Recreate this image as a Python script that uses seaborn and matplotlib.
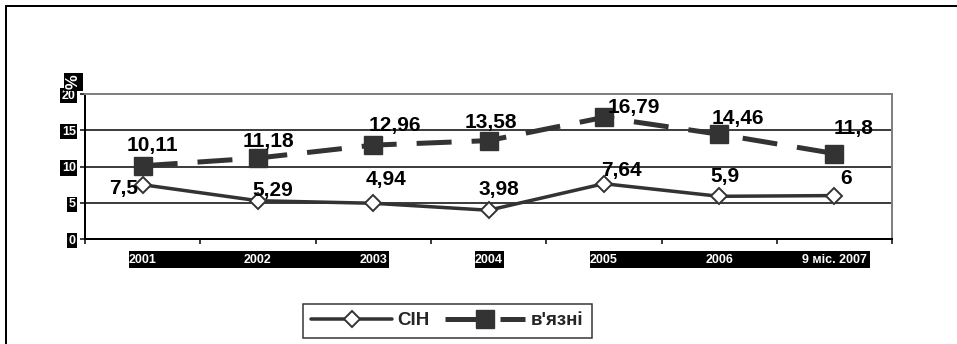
import numpy as np
import pandas as pd
import matplotlib
matplotlib.use("Agg")
import matplotlib.pyplot as plt
import matplotlib.transforms as mtransforms
from matplotlib.patches import Rectangle
from matplotlib.lines import Line2D
import seaborn as sns

# data
years = ['2001', '2002', '2003', '2004', '2005', '2006', '9 міс. 2007']
sin_values = [7.5, 5.29, 4.94, 3.98, 7.64, 5.9, 6]
prisoner_values = [10.11, 11.18, 12.96, 13.58, 16.79, 14.46, 11.8]
series_names = ['СІН', "в'язні"]
y_ticks = [0, 5, 10, 15, 20]

sns.set_style('white')
plt.rcParams['font.family'] = ['Liberation Sans', 'DejaVu Sans']
plt.rcParams['font.weight'] = 'bold'

DPI = 100
PX = 72 / DPI  # one pixel in points
DARK = '#333333'

fig = plt.figure(figsize=(9.57, 3.44), dpi=DPI)
ax = fig.add_axes([0.0888, 0.305, 0.8434, 0.4215])

df = pd.DataFrame({'pos': np.arange(len(years)),
                   'sin': sin_values,
                   'pris': prisoner_values})

sns.lineplot(data=df, x='pos', y='sin', ax=ax, color=DARK, lw=3.5 * PX,
             marker='D', ms=7.8, mfc='white', mec=DARK, mew=1.4,
             label=series_names[0], zorder=4)
sns.lineplot(data=df, x='pos', y='pris', ax=ax, color=DARK, lw=5 * PX,
             linestyle=(0, (7, 4)), marker='s', ms=12.5, mfc=DARK, mec=DARK,
             mew=1, label=series_names[1], zorder=4)

ax.set_xlim(-0.5, len(years) - 0.5)
ax.set_ylim(0, 20)
ax.set_xlabel('')
ax.set_ylabel('')

# axis styling
ax.set_yticks(y_ticks)
ax.set_xticks(np.arange(len(years)))
ax.set_xticklabels(years)
ax.set_xticks(np.arange(-0.5, len(years)), minor=True)
ax.tick_params(axis='x', which='major', length=0, pad=11, labelsize=9,
               labelcolor='white')
ax.tick_params(axis='x', which='minor', length=5 * PX, width=1.5 * PX,
               direction='out', color='black', bottom=True)
ax.tick_params(axis='y', length=5 * PX, width=1.5 * PX, direction='out',
               color='black', left=True, pad=3, labelsize=9,
               labelcolor='white')
for lab in ax.get_yticklabels():
    lab.set_fontweight('bold')
    lab.set_bbox(dict(facecolor='black', edgecolor='none', pad=1.2))
for lab in ax.get_xticklabels():
    lab.set_fontweight('bold')

ax.grid(axis='y', color='black', lw=1.5 * PX)
ax.grid(axis='x', visible=False)
for side in ['left', 'bottom']:
    ax.spines[side].set_color('black')
    ax.spines[side].set_linewidth(2 * PX)
for side in ['top', 'right']:
    ax.spines[side].set_color('#808080')
    ax.spines[side].set_linewidth(2 * PX)

# black bands behind x tick labels
trans = mtransforms.blended_transform_factory(ax.transData, ax.transAxes)
for x0, x1 in [(-0.12, 2.135), (2.88, 3.13), (3.88, 6.31)]:
    ax.add_patch(Rectangle((x0, -0.2), x1 - x0, 0.117, transform=trans,
                           facecolor='black', edgecolor='none',
                           clip_on=False, zorder=0))

# percent label
fig.text(73.5 / 957, 1 - 82 / 344, '%', rotation=90, ha='center',
         va='center', color='white', fontsize=12, fontweight='bold',
         bbox=dict(facecolor='black', edgecolor='none', pad=1.5))

# data labels
def fmt(v):
    return f'{v:g}'.replace('.', ',')

sin_offsets = [(-5, -4), (15, 5), (13, 18), (10, 15), (18, 8), (6, 14), (12, 12)]
pris_offsets = [(10, 15), (10, 11), (22, 14), (2, 13), (30, 4), (19, 10), (19, 20)]

for i, v in enumerate(sin_values):
    dx, dy = sin_offsets[i]
    if i == 0:
        ax.annotate(fmt(v), (i, v), xytext=(dx * PX, dy * PX),
                    textcoords='offset points', ha='right', va='center',
                    fontsize=15, fontweight='bold', color='black', zorder=6)
    else:
        ax.annotate(fmt(v), (i, v), xytext=(dx * PX, dy * PX),
                    textcoords='offset points', ha='center', va='baseline',
                    fontsize=15, fontweight='bold', color='black', zorder=6)
for i, v in enumerate(prisoner_values):
    dx, dy = pris_offsets[i]
    ax.annotate(fmt(v), (i, v), xytext=(dx * PX, dy * PX),
                textcoords='offset points', ha='center', va='baseline',
                fontsize=15, fontweight='bold', color='black', zorder=6)

# legend
ax.get_legend().remove()
handles, labels = ax.get_legend_handles_labels()
leg = fig.legend(handles, labels, loc='center',
                 bbox_to_anchor=(0.4676, 0.068), ncol=2, frameon=True,
                 fancybox=False, fontsize=13.5, handlelength=4.3,
                 handletextpad=0.3, columnspacing=0.8, borderpad=0.45,
                 prop={'weight': 'bold', 'size': 13.5})
leg.get_frame().set_edgecolor('black')
leg.get_frame().set_linewidth(1.5 * PX)

# outer frame (left and top)
fig.add_artist(Line2D([6 / 957, 6 / 957], [0, 1 - 6 / 344],
                      transform=fig.transFigure, color='black', lw=2 * PX))
fig.add_artist(Line2D([6 / 957, 1], [1 - 6 / 344, 1 - 6 / 344],
                      transform=fig.transFigure, color='black', lw=2 * PX))

fig.savefig('out.png', dpi=DPI)
